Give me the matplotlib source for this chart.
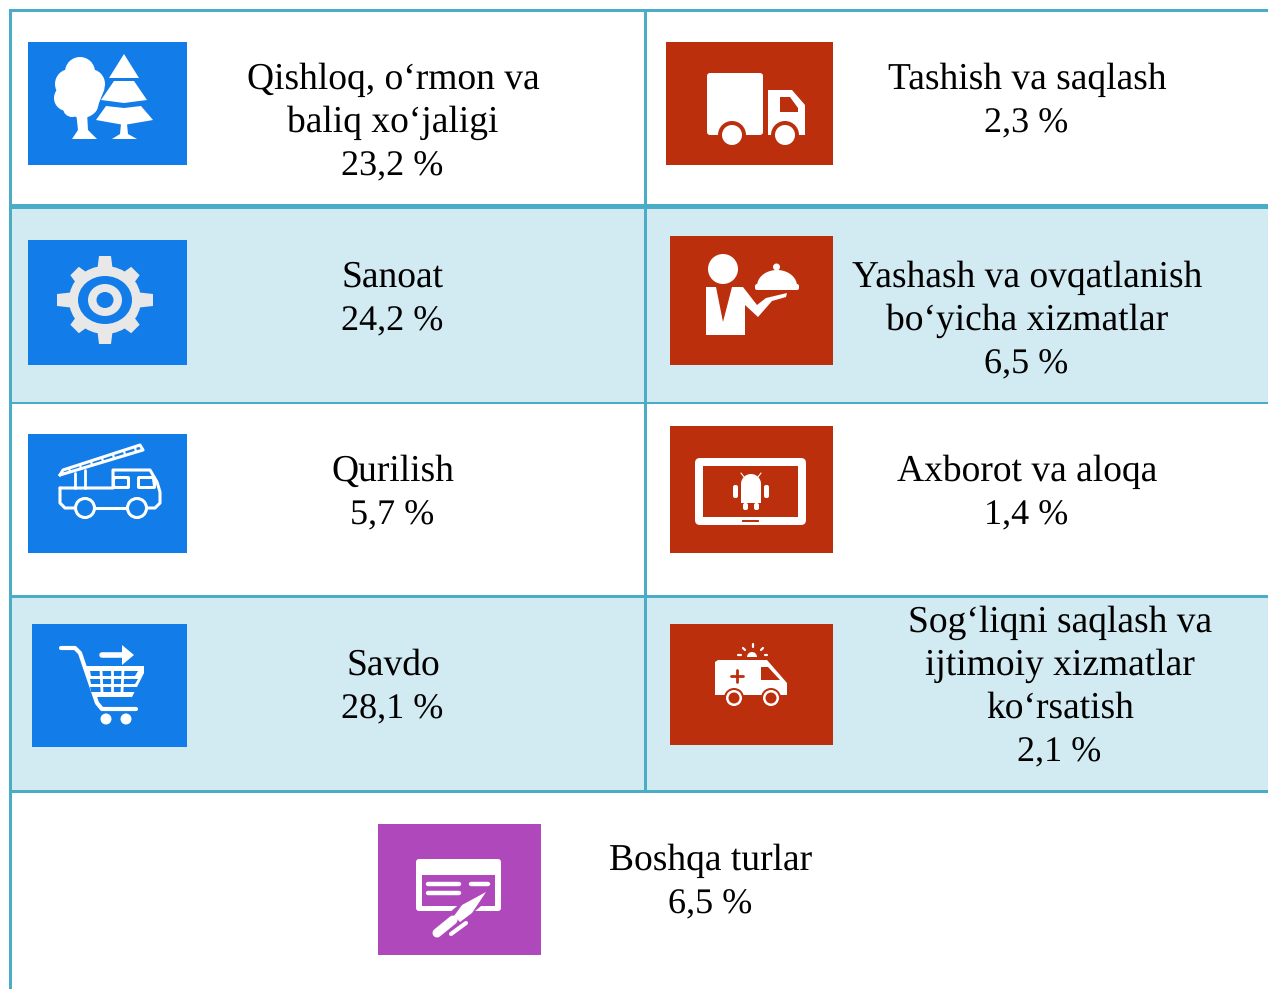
import matplotlib
matplotlib.use("Agg")
import matplotlib.pyplot as plt
from matplotlib.patches import Rectangle, Circle, Polygon, FancyBboxPatch, Wedge, Ellipse
import numpy as np

plt.rcParams['font.family'] = ['Liberation Serif', 'DejaVu Serif']
plt.rcParams['text.hinting'] = 'no_hinting'

# sectors and shares, as printed
left_labels = [["Qishloq, o‘rmon va", "baliq xo‘jaligi"], ["Sanoat"], ["Qurilish"], ["Savdo"]]
left_values = ["23,2 %", "24,2 %", "5,7 %", "28,1 %"]
right_labels = [["Tashish va saqlash"], ["Yashash va ovqatlanish", "bo‘yicha xizmatlar"],
                ["Axborot va aloqa"], ["Sog‘liqni saqlash va", "ijtimoiy xizmatlar", "ko‘rsatish"]]
right_values = ["2,3 %", "6,5 %", "1,4 %", "2,1 %"]
other_label = ["Boshqa turlar"]
other_value = "6,5 %"

LINE = "#4BACC6"
SHADE = "#D2EAF1"
BLUE = "#127CE8"
RED = "#BB2F0D"
PURPLE = "#AF49BB"
WH = "white"

fig = plt.figure(figsize=(12.68, 9.89), dpi=100)
ax = fig.add_axes([0, 0, 1, 1])
ax.set_xlim(0, 1268)
ax.set_ylim(989, 0)
ax.axis("off")


def rect(x0, y0, x1, y1, c, z=1):
    ax.add_patch(Rectangle((x0, y0), x1 - x0, y1 - y0, fc=c, ec="none", zorder=z))


def rrect(x0, y0, x1, y1, c, z=3, r=2):
    ax.add_patch(FancyBboxPatch((x0 + r, y0 + r), x1 - x0 - 2 * r, y1 - y0 - 2 * r,
                                boxstyle="round,pad=%g,rounding_size=%g" % (r, r),
                                fc=c, ec="none", zorder=z))


def poly(pts, c, z=3):
    ax.add_patch(Polygon(pts, closed=True, fc=c, ec="none", zorder=z))


def circ(x, y, r, c, z=3):
    ax.add_patch(Circle((x, y), r, fc=c, ec="none", zorder=z))


def path(pts, c=WH, lw=2, z=3):
    pts = np.array(pts)
    ax.plot(pts[:, 0], pts[:, 1], color=c, lw=lw, zorder=z, solid_capstyle="round",
            solid_joinstyle="round")


def write(x, y, lines, value):
    for i, s in enumerate(lines):
        ax.text(x, y + i * 43, s, ha="center", va="baseline", fontsize=27, color="black", zorder=5)
    ax.text(x - 1, y + len(lines) * 43, value, ha="center", va="baseline", fontsize=26, color="black", zorder=5)


# table background and rules
rect(12, 209, 1268, 402, SHADE)
rect(12, 598, 1268, 790, SHADE)
rect(9, 9, 1268, 12, LINE, 2)
rect(9, 204, 1268, 209, LINE, 2)
rect(9, 402, 1268, 404, LINE, 2)
rect(9, 595, 1268, 598, LINE, 2)
rect(9, 790, 1268, 793, LINE, 2)
rect(9, 9, 12, 989, LINE, 2)
rect(644, 9, 647, 793, LINE, 2)

# icon tiles
rect(28, 42, 187, 165, BLUE, 2)
rect(666, 42, 833, 165, RED, 2)
rect(28, 240, 187, 365, BLUE, 2)
rect(670, 236, 833, 365, RED, 2)
rect(28, 434, 187, 553, BLUE, 2)
rect(670, 426, 833, 553, RED, 2)
rect(32, 624, 187, 747, BLUE, 2)
rect(670, 624, 833, 745, RED, 2)
rect(378, 824, 541, 955, PURPLE, 2)

# trees
for x, y, r in [(80, 72, 15), (70, 84, 15), (90, 84, 15), (67, 98, 13), (82, 100, 18), (95, 92, 10), (72, 108, 9)]:
    circ(x, y, r, WH)
poly([(76, 112), (87, 112), (88, 130), (97, 139), (72, 139), (78, 130)], WH)
# blue gap between the crown and the fir
poly([(109, 78), (139, 78), (152, 102), (157, 122), (94, 122), (99, 103)], BLUE, 3)
poly([(124, 54), (139, 78), (109, 78)], WH, 4)
poly([(114, 81), (134, 81), (147, 100), (124, 103), (101, 100)], WH, 4)
poly([(106, 106), (124, 108), (141, 106), (153, 120), (124, 125), (96, 120)], WH, 4)
poly([(121, 124), (127, 124), (128, 134), (137, 139), (112, 139), (120, 134)], WH, 4)

# truck
rrect(707, 73, 763, 135, WH, 3, 3)
poly([(768, 90), (792, 90), (805, 105), (805, 135), (768, 135)], WH)
poly([(780, 97), (790, 97), (798, 108), (798, 112), (780, 112)], RED)
for x in (732, 785):
    circ(x, 135, 14, RED, 4)
    circ(x, 135, 10, WH, 4)

# gear
gear_grey = "#E8E8E8"
for a in np.arange(0, 360, 45):
    dx, dy = np.cos(np.radians(a)), np.sin(np.radians(a))
    px, py = -dy, dx
    sx, sy = 48, 44
    if a % 90:
        sx, sy = 43, 41
    poly([(105 + 30 * dx + 8 * px, 300 + 28 * dy + 8 * py), (105 + sx * dx + 6 * px, 300 + sy * dy + 6 * py),
          (105 + sx * dx - 6 * px, 300 + sy * dy - 6 * py), (105 + 30 * dx - 8 * px, 300 + 28 * dy - 8 * py)], gear_grey)
ax.add_patch(Ellipse((105, 300), 72, 68, fc=gear_grey, ec="none", zorder=3))
ax.add_patch(Ellipse((105, 300), 54, 48, fc=BLUE, ec="none", zorder=3))
ax.add_patch(Ellipse((105, 300), 34, 32, fc=gear_grey, ec="none", zorder=3))
ax.add_patch(Ellipse((105, 300), 17, 16, fc=BLUE, ec="none", zorder=3))

# waiter
circ(723, 269, 15, WH)
poly([(706, 287), (716, 287), (723, 322), (732, 287), (743, 287), (757, 305), (766, 298), (787, 293),
      (786, 297), (772, 301), (758, 317), (745, 305), (745, 335), (706, 335)], WH)
t = np.linspace(np.pi, 2 * np.pi, 30)
poly(np.column_stack([777 + 20 * np.cos(t), 286 + 16 * np.sin(t)]), WH)
rrect(755, 284, 799, 290, WH)
circ(776.5, 267, 3.5, WH)

# fire engine
path([(60, 488), (113, 488), (113, 470), (150, 470), (157, 482), (160, 492), (160, 503), (155, 508), (148, 508)], lw=2.2)
path([(60, 488), (60, 503), (65, 508), (74, 508)], lw=2.2)
path([(96, 508), (126, 508)], lw=2.2)
path([(60, 475), (143, 450), (140, 445), (63, 470), (60, 475)], lw=2.2)
for i in range(7):
    path([(70 + i * 11, 472 - i * 3.4), (69 + i * 11, 468 - i * 3.4)], lw=1.6)
path([(75, 473), (75, 488)], lw=2)
path([(85, 470), (85, 488)], lw=2)
rrect(112, 476, 130, 489, WH, 3, 2)
rrect(115, 479, 127, 486, BLUE, 4, 1)
rrect(137, 476, 156, 489, WH, 3, 2)
poly([(140, 479), (152, 479), (153, 486), (140, 486)], BLUE, 4)
for x in (85, 137):
    ax.add_patch(Circle((x, 508), 9.5, fc=BLUE, ec=WH, lw=2.2, zorder=4))

# tablet
rrect(695, 458, 806, 525, WH, 3, 5)
rect(703, 466, 798, 517, RED, 4)
rrect(742, 520, 759, 522, RED, 4, 0.5)
ax.add_patch(Wedge((751, 484), 10, 180, 360, fc=WH, ec="none", zorder=5))
rect(741, 484, 761, 503, WH, 5)
rrect(733, 485, 738, 498, WH, 5, 2)
rrect(764, 485, 769, 498, WH, 5, 2)
rrect(743, 503, 748, 510, WH, 5, 2)
rrect(754, 503, 759, 510, WH, 5, 2)
path([(744, 477), (741, 473)], lw=0.8, z=5)
path([(758, 477), (761, 473)], lw=0.8, z=5)

# cart
path([(61, 648), (75, 648), (80, 653), (97, 703), (102, 709), (136, 709)], lw=3)
poly([(85, 666), (144, 666), (144, 673), (132, 697), (93, 697)], WH)
for y in (671, 679, 687):
    poly([(90, y), (138, y), (135, y + 5), (91, y + 5)], BLUE, 4)
for x in (101, 112, 123):
    path([(x, 670), (x + (x - 112) * -0.1, 694)], WH, 2, 5)
circ(106, 719, 5.5, WH)
circ(126, 719, 5.5, WH)
path([(102, 655), (124, 655)], lw=4)
poly([(122, 645), (134, 655), (122, 665)], WH)

# ambulance
poly([(718, 660), (767, 660), (787, 683), (787, 695), (715, 695), (715, 662)], WH)
poly([(761, 667), (768, 667), (780, 680), (761, 680)], RED, 4)
path([(731, 676), (743, 676)], RED, 2, 4)
path([(737, 670), (737, 682)], RED, 2, 4)
for x in (734, 771):
    circ(x, 698, 10, RED, 4)
    circ(x, 698, 8, WH, 4)
    circ(x, 698, 5.5, RED, 4)
ax.add_patch(Wedge((752, 657), 5, 180, 360, fc=WH, ec="none", zorder=3))
for a, b in [((738, 655), (741, 655)), ((743, 648), (745, 650)), ((753, 644), (753, 647)),
             ((763, 648), (761, 650)), ((765, 655), (767, 655))]:
    path([a, b], lw=1.6)

# form and pen
rrect(416, 859, 501, 911, WH, 3, 3)
rect(422, 875, 495, 906, PURPLE, 4)
for x0, x1, y in [(428, 459, 884), (428, 459, 893), (471, 488, 884)]:
    path([(x0, y), (x1, y)], lw=3.2, z=5)
path([(480, 897), (456, 917)], PURPLE, 11, 5)
path([(444, 930), (455, 921)], PURPLE, 9, 5)
poly([(486, 892), (472, 913), (460, 922), (454, 916), (462, 905)], WH, 6)
path([(437, 933), (453, 920)], lw=6.5, z=6)
path([(451, 934), (466, 923)], lw=3, z=6)

# text cells
left_base = [89, 287, 481, 675]
right_base = [89, 287, 481, 632]
right_x = [1027, 1027, 1027, 1060]
for lab, val, y in zip(left_labels, left_values, left_base):
    write(393, y, lab, val)
for lab, val, y, x in zip(right_labels, right_values, right_base, right_x):
    write(x, y, lab, val)
write(711, 870, other_label, other_value)

fig.savefig("out.png", dpi=100)
